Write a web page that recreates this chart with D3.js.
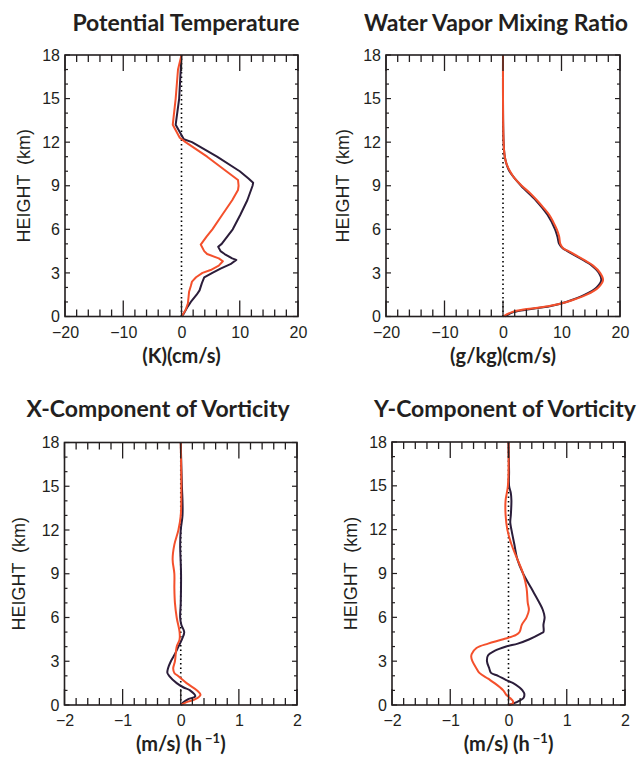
<!DOCTYPE html>
<html><head><meta charset="utf-8">
<script src="https://cdn.jsdelivr.net/npm/d3@7"></script>
<style>
html,body{margin:0;padding:0;background:#fff;}
svg{display:block;}
</style></head>
<body>
<svg id="c" width="638" height="757"></svg>
<script>
// ---------- DATA ----------
const titles = ["Potential Temperature","Water Vapor Mixing Ratio","X-Component of Vorticity","Y-Component of Vorticity"];
const xLabels = ["(K)(cm/s)","(g/kg)(cm/s)","(m/s) (h","(m/s) (h"];
const yLabel = "HEIGHT  (km)";
const xTicksTop = [-20,-10,0,10,20];
const xTicksBottom = [-2,-1,0,1,2];
const yTicks = [0,3,6,9,12,15,18];

// Panel 1: potential temperature flux
const ptHBlack = [0,0.2,0.5,0.7,1,1.5,1.8,2.3,2.7,3,3.3,3.6,3.9,4,4.3,4.5,4.8,5,6,7,8,9,9.2,9.5,10,11,12,12.2,13.2,15,18];
const ptBlack  = [0,0.4,0.8,1.1,1.6,2.6,3.1,3.5,3.9,5.3,6.7,8.4,9.4,8.7,7.4,6.7,6.3,6.9,8.8,10.1,11.3,12.2,12.3,11.5,10,6.1,1.8,0.4,-1.0,-0.4,0];
const ptHRed = [0,0.45,0.9,1.7,2.1,2.4,2.7,3,3.2,3.5,3.8,4,4.3,4.5,4.95,5.5,6,7,8,8.7,9,9.4,10,11,12,12.3,13.2,15,17,18];
const ptRed  = [0,0.7,1.1,1.3,1.6,1.8,2.5,3.6,5,6.4,7.1,6.4,4.4,3.9,3.3,4.3,5.3,7,8.7,9.7,9.8,9.7,7.7,4.4,0.7,-0.3,-1.5,-1.0,-0.6,0];

// Panel 2: water vapor mixing ratio flux
const wvHBlack = [0,0.3,0.5,0.7,1,1.5,2,2.5,3,3.5,4,4.5,4.7,5,5.5,6,7,8,9,10,10.5,11,12,18];
const wvBlack  = [0.3,1.8,4.5,8.0,10.8,14.0,16.0,16.8,16.4,15.2,13.2,11.0,10.2,9.6,9.3,8.9,7.6,5.6,3.1,1.1,0.6,0.3,0.1,0];
const wvHRed = [0,0.3,0.5,0.7,1,1.5,2,2.5,3,3.5,4,4.5,4.7,5,5.5,6,6.5,7,7.5,8,8.5,9,9.5,10,10.5,11,12,18];
const wvRed  = [0,1.5,3.8,7.7,10.9,14.3,16.3,17.1,16.6,15.4,13.4,11.2,10.3,9.8,9.6,9.2,8.6,7.9,6.9,5.8,4.6,3.2,2.0,1.2,0.6,0.3,0.1,0];

// Panel 3: x-component of vorticity flux
const xvHBlack = [0,0.2,0.4,0.6,1,1.2,1.5,2,2.2,2.5,3,3.5,4,4.5,5,5.5,6,7,9,11,12,13,14,15,18];
const xvBlack  = [0,0.05,0.13,0.25,0.16,0.05,-0.07,-0.2,-0.23,-0.22,-0.17,-0.1,-0.04,0.02,0.06,0.01,-0.01,0,0.005,-0.01,0,0.03,0.03,0.02,0];
const xvHRed = [0,0.2,0.4,0.7,1,1.5,2,2.2,2.5,3,4,4.5,5,6,7,8,9,10,11,12,13,15,18];
const xvRed  = [0,0.1,0.25,0.34,0.28,0.1,-0.05,-0.11,-0.13,-0.1,-0.07,-0.02,-0.02,-0.07,-0.1,-0.11,-0.11,-0.14,-0.11,-0.04,0,0.01,0];

// Panel 4: y-component of vorticity flux
const yvHBlack = [0,0.1,0.3,0.5,0.8,1,1.2,1.5,1.7,2,2.2,2.5,3,3.4,3.7,4,4.2,4.5,4.9,5,5.5,6,6.5,7,8,9,10,11,12,12.5,13,14,14.5,15,16,18];
const yvBlack  = [0,0.08,0.19,0.26,0.27,0.24,0.19,0.08,-0.04,-0.18,-0.3,-0.33,-0.37,-0.35,-0.24,-0.04,0.16,0.36,0.56,0.6,0.6,0.62,0.59,0.53,0.39,0.25,0.15,0.1,0.05,0.03,0.04,0.05,0.04,0.01,0.01,0];
const yvHRed = [0,0.15,0.3,0.5,0.7,1,1.5,1.8,2.2,2.5,3,3.3,3.5,3.9,4.2,4.5,4.8,5,5.5,6,6.5,7,8,9,10,11,12,13,14,15,18];
const yvRed  = [0,0.08,0.07,0.02,-0.04,-0.09,-0.24,-0.35,-0.5,-0.55,-0.62,-0.64,-0.63,-0.55,-0.35,-0.09,0.13,0.19,0.23,0.31,0.35,0.33,0.31,0.25,0.15,0.05,-0.02,-0.05,-0.05,-0.01,0];

// ---------- DRAW ----------
const svg = d3.select("#c");
const ink = "#231f20";
const colBlack = "#2b1d3a";
const colRed = "#f4502c";

const panels = [
  {box:[65,298,55,316.5], xdom:[-20,20], xt:xTicksTop, minor:2, title:titles[0], tx:186, ty:31, xl:xLabels[0], sup:false, xlY:363, ylX:30,
   series:[[ptHBlack,ptBlack,colBlack],[ptHRed,ptRed,colRed]], curve:d3.curveLinear},
  {box:[386,620,55,316.5], xdom:[-20,20], xt:xTicksTop, minor:2, title:titles[1], tx:496, ty:31, xl:xLabels[1], sup:false, xlY:363, ylX:349,
   series:[[wvHBlack,wvBlack,colBlack],[wvHRed,wvRed,colRed]], curve:d3.curveCatmullRom},
  {box:[64.5,297,442.5,705], xdom:[-2,2], xt:xTicksBottom, minor:0.2, title:titles[2], tx:158, ty:417, xl:xLabels[2], sup:true, xlY:751, ylX:25,
   series:[[xvHBlack,xvBlack,colBlack],[xvHRed,xvRed,colRed]], curve:d3.curveCatmullRom},
  {box:[392,625,442,705], xdom:[-2,2], xt:xTicksBottom, minor:0.2, title:titles[3], tx:505, ty:417, xl:xLabels[3], sup:true, xlY:751, ylX:357,
   series:[[yvHBlack,yvBlack,colBlack],[yvHRed,yvRed,colRed]], curve:d3.curveCatmullRom}
];

panels.forEach(p => {
  const [x0,x1,y0,y1] = p.box;
  const x = d3.scaleLinear().domain(p.xdom).range([x0,x1]);
  const y = d3.scaleLinear().domain([0,18]).range([y1,y0]);
  const g = svg.append("g");

  // title
  g.append("text").attr("x",p.tx).attr("y",p.ty).attr("text-anchor","middle")
    .attr("font-family","Lato, 'Open Sans', sans-serif").attr("font-weight","bold")
    .attr("font-size",23).attr("fill",ink).text(p.title);

  // zero dotted line
  g.append("line").attr("x1",x(0)).attr("x2",x(0)).attr("y1",y(0)).attr("y2",y(18))
    .attr("stroke","#000").attr("stroke-width",1.6).attr("stroke-dasharray","1.5,3");

  // curves
  p.series.forEach(([hs,vs,col]) => {
    const pts = hs.map((h,i)=>[vs[i],h]);
    const line = d3.line().x(d=>x(d[0])).y(d=>y(d[1])).curve(p.curve);
    g.append("path").attr("d",line(pts)).attr("fill","none").attr("stroke",col)
      .attr("stroke-width",2).attr("stroke-linejoin","round");
  });

  // x ticks (top and bottom)
  const step = p.minor;
  const minorX = d3.range(p.xdom[0], p.xdom[1]+step/2, step).map(v=>+v.toFixed(4));
  const majorSet = new Set(p.xt.map(String));
  minorX.forEach(v => {
    const isMajor = majorSet.has(String(v));
    const len = isMajor ? 16 : 7;
    g.append("line").attr("x1",x(v)).attr("x2",x(v)).attr("y1",y1).attr("y2",y1-len).attr("stroke",ink).attr("stroke-width",1.3);
    g.append("line").attr("x1",x(v)).attr("x2",x(v)).attr("y1",y0).attr("y2",y0+len).attr("stroke",ink).attr("stroke-width",1.3);
  });
  // y ticks
  d3.range(0,19,1).forEach(v => {
    const isMajor = v%3===0;
    const len = isMajor ? 5 : 3;
    g.append("line").attr("x1",x0).attr("x2",x0+len).attr("y1",y(v)).attr("y2",y(v)).attr("stroke",ink).attr("stroke-width",1.2);
    g.append("line").attr("x1",x1).attr("x2",x1-len).attr("y1",y(v)).attr("y2",y(v)).attr("stroke",ink).attr("stroke-width",1.2);
  });

  // frame
  g.append("rect").attr("x",x0).attr("y",y0).attr("width",x1-x0).attr("height",y1-y0)
    .attr("fill","none").attr("stroke",ink).attr("stroke-width",1.6);

  // x tick labels via axis
  const xa = d3.axisBottom(x).tickValues(p.xt).tickSize(0).tickPadding(10)
    .tickFormat(v => (v<0 ? "\u2212" + Math.abs(v) : String(v)));
  const gx = g.append("g").attr("transform",`translate(0,${y1})`).call(xa);
  gx.select(".domain").remove();
  gx.selectAll("text").attr("font-family","'Liberation Sans', Arial, sans-serif").attr("font-size",16).attr("fill",ink);

  // y tick labels via axis
  const ya = d3.axisLeft(y).tickValues(yTicks).tickSize(0).tickPadding(5);
  const gy = g.append("g").attr("transform",`translate(${x0},0)`).call(ya);
  gy.select(".domain").remove();
  gy.selectAll("text").attr("font-family","'Liberation Sans', Arial, sans-serif").attr("font-size",16).attr("fill",ink);

  // y label
  g.append("text").attr("transform",`translate(${p.ylX},${(y0+y1)/2}) rotate(-90)`)
    .attr("text-anchor","middle").attr("font-family","'Liberation Sans', Arial, sans-serif")
    .attr("font-size",18).attr("fill",ink).style("white-space","pre").text(yLabel);

  // x label
  const xl = g.append("text").attr("x",(x0+x1)/2).attr("y",p.xlY).attr("text-anchor","middle")
    .attr("font-family","Lato, 'Open Sans', sans-serif").attr("font-weight","bold")
    .attr("font-size",20).attr("fill",ink);
  xl.append("tspan").text(p.xl);
  if (p.sup) {
    xl.append("tspan").attr("font-size",13).attr("dy",-8).attr("dx",3).text("\u22121");
    xl.append("tspan").attr("dy",8).text(")");
  }
});
</script>
</body></html>
